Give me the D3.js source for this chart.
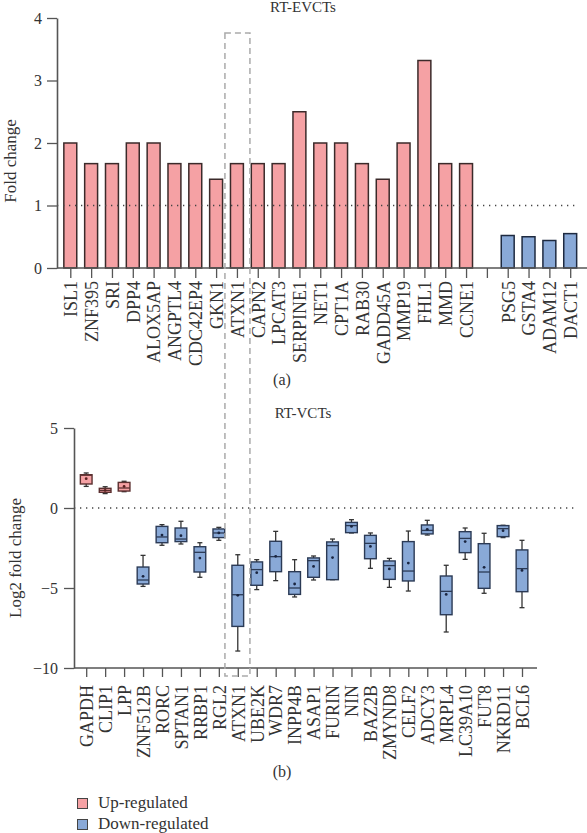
<!DOCTYPE html>
<html><head><meta charset="utf-8">
<script src="https://cdn.jsdelivr.net/npm/d3@7"></script>
<style>
body{margin:0;background:#fff;}
svg{display:block;}
</style></head>
<body><svg id="c" width="587" height="833"></svg>
<script>
// ---------- Data ----------
const upGenesA = ["ISL1","ZNF395","SRI","DPP4","ALOX5AP","ANGPTL4","CDC42EP4","GKN1","ATXN1","CAPN2","LPCAT3","SERPINE1","NET1","CPT1A","RAB30","GADD45A","MMP19","FHL1","MMD","CCNE1"];
const upValuesA = [2,1.67,1.67,2,2,1.67,1.67,1.42,1.67,1.67,1.67,2.5,2,2,1.67,1.42,2,3.32,1.67,1.67];
const downGenesA = ["PSG5","GSTA4","ADAM12","DACT1"];
const downValuesA = [0.52,0.50,0.44,0.55];
const yTicksA = [0,1,2,3,4];

const genesB = ["GAPDH","CLIP1","LPP","ZNF512B","RORC","SPTAN1","RRBP1","RGL2","ATXN1","UBE2K","WDR7","INPP4B","ASAP1","FURIN","NIN","BAZ2B","ZMYND8","CELF2","ADCY3","MRPL4","LC39A10","FUT8","NKRD11","BCL6"];
const regB =   ["up","up","up","down","down","down","down","down","down","down","down","down","down","down","down","down","down","down","down","down","down","down","down","down"];
const minB =   [1.35,0.90,1.02,-4.90,-2.33,-2.25,-4.33,-2.02,-8.94,-5.10,-4.54,-5.56,-4.50,-4.48,-1.56,-3.77,-4.96,-5.19,-1.69,-7.75,-3.21,-5.33,-1.85,-6.23];
const q1B =    [1.50,0.98,1.06,-4.75,-2.17,-2.10,-4.00,-1.85,-7.40,-4.83,-3.98,-5.40,-4.33,-4.48,-1.54,-3.17,-4.46,-4.56,-1.62,-6.67,-2.79,-5.02,-1.79,-5.23];
const medB =   [2.05,1.10,1.25,-4.50,-1.81,-1.94,-2.77,-1.56,-5.42,-3.85,-3.04,-5.00,-3.29,-2.35,-1.10,-2.21,-3.60,-3.94,-1.40,-5.21,-1.90,-4.00,-1.29,-3.79];
const q3B =    [2.08,1.23,1.60,-3.69,-1.15,-1.25,-2.42,-1.31,-3.58,-3.37,-2.08,-3.98,-3.12,-2.12,-0.90,-1.71,-3.31,-2.10,-1.06,-4.25,-1.48,-2.23,-1.10,-2.62];
const maxB =   [2.19,1.33,1.67,-2.96,-1.04,-0.83,-2.17,-1.21,-2.92,-3.23,-1.46,-3.23,-3.00,-1.94,-0.73,-1.56,-3.15,-1.44,-0.77,-3.58,-1.25,-1.58,-1.08,-2.02];
const meanB =  [1.83,1.10,1.35,-4.27,-1.69,-1.73,-3.13,-1.56,-5.46,-4.04,-3.02,-4.75,-3.65,-3.10,-1.15,-2.40,-3.81,-3.44,-1.33,-5.40,-2.10,-3.71,-1.42,-3.90];
const yTicksB = [-10,-5,0,5];

const legendLabels = ["Up-regulated","Down-regulated"];

// ---------- Style ----------
const FONT = '"Liberation Serif","Times New Roman",serif';
const col = {
  upFill:"#F5A1A4", upStroke:"#3b2a2a", upBoxStroke:"#5b3030",
  downFill:"#89A9D7", downStroke:"#1e2a40", downBoxStroke:"#2b3a55",
  axis:"#555", dash:"#aaa", text:"#333"
};
const svg = d3.select("#c");
const LABEL_FS = 18;
function txt(g, s, size){
  return g.append("text").style("font-family",FONT).style("font-size",size+"px")
    .attr("fill",col.text).text(s);
}

// ---------- Panel A ----------
const catsA = [...upGenesA, " ", ...downGenesA];
const dataA = upGenesA.map((g,i)=>({g, v:upValuesA[i], t:"up"}))
  .concat(downGenesA.map((g,i)=>({g, v:downValuesA[i], t:"down"})));
const xA = d3.scalePoint().domain(catsA).range([70.3, 570.2]);
const yA = d3.scaleLinear().domain([0,4]).range([268,18]);
const bwA = xA.step()*0.62;
const gA = svg.append("g");

gA.selectAll("rect.bar").data(dataA).enter().append("rect")
  .attr("x", d=>xA(d.g)-bwA/2).attr("y", d=>yA(d.v))
  .attr("width", bwA).attr("height", d=>yA(0)-yA(d.v))
  .attr("fill", d=>d.t==="up"?col.upFill:col.downFill)
  .attr("stroke", d=>d.t==="up"?col.upStroke:col.downStroke)
  .attr("stroke-width",1.5);

gA.append("line").attr("x1",57).attr("x2",578).attr("y1",yA(1)).attr("y2",yA(1))
  .attr("stroke","#444").attr("stroke-width",1.3).attr("stroke-dasharray","1.3,4.7");

const axYA = gA.append("g").attr("transform","translate(57,0)")
  .call(d3.axisLeft(yA).tickValues(yTicksA).tickFormat(d3.format("d")).tickSize(10).tickPadding(5).tickSizeOuter(0));
const axXA = gA.append("g").attr("transform",`translate(0,${yA(0)})`)
  .call(d3.axisBottom(xA).tickSize(10).tickPadding(4).tickSizeOuter(0));
axXA.select(".domain").remove();
gA.append("line").attr("x1",57).attr("x2",587).attr("y1",yA(0)).attr("y2",yA(0))
  .attr("stroke",col.axis).attr("stroke-width",1.6);
axXA.selectAll(".tick text").attr("transform","rotate(-90)")
  .attr("text-anchor","end").attr("x",-13).attr("y",0).attr("dy","0.35em");

txt(gA,"RT-EVCTs",15).attr("x",303).attr("y",12).attr("text-anchor","middle");
txt(gA,"Fold change",17).attr("transform","translate(16,161) rotate(-90)").attr("text-anchor","middle");
txt(gA,"(a)",16).attr("x",282).attr("y",385).attr("text-anchor","middle");

// ---------- Panel B ----------
const xB = d3.scalePoint().domain(genesB).range([86.2, 522]);
const yB = d3.scaleLinear().domain([-10,5]).range([668,428]);
const bwB = 11.7, capW = 5;
const gB = svg.append("g");
const dataB = genesB.map((g,i)=>({g, t:regB[i], min:minB[i], q1:q1B[i], med:medB[i], q3:q3B[i], max:maxB[i], mean:meanB[i]}));

gB.append("line").attr("x1",74).attr("x2",575).attr("y1",yB(0)).attr("y2",yB(0))
  .attr("stroke","#444").attr("stroke-width",1.3).attr("stroke-dasharray","1.3,4.7");

const bx = gB.selectAll("g.box").data(dataB).enter().append("g");
bx.append("line").attr("x1",d=>xB(d.g)).attr("x2",d=>xB(d.g))
  .attr("y1",d=>yB(d.max)).attr("y2",d=>yB(d.min)).attr("stroke","#333").attr("stroke-width",1.3);
bx.append("line").attr("x1",d=>xB(d.g)-capW/2).attr("x2",d=>xB(d.g)+capW/2)
  .attr("y1",d=>yB(d.max)).attr("y2",d=>yB(d.max)).attr("stroke","#333").attr("stroke-width",1.3);
bx.append("line").attr("x1",d=>xB(d.g)-capW/2).attr("x2",d=>xB(d.g)+capW/2)
  .attr("y1",d=>yB(d.min)).attr("y2",d=>yB(d.min)).attr("stroke","#333").attr("stroke-width",1.3);
bx.append("rect").attr("x",d=>xB(d.g)-bwB/2).attr("y",d=>yB(d.q3))
  .attr("width",bwB).attr("height",d=>Math.max(1,yB(d.q1)-yB(d.q3)))
  .attr("fill",d=>d.t==="up"?col.upFill:col.downFill)
  .attr("stroke",d=>d.t==="up"?col.upBoxStroke:col.downBoxStroke).attr("stroke-width",1.4);
bx.append("line").attr("x1",d=>xB(d.g)-bwB/2).attr("x2",d=>xB(d.g)+bwB/2)
  .attr("y1",d=>yB(d.med)).attr("y2",d=>yB(d.med))
  .attr("stroke",d=>d.t==="up"?col.upBoxStroke:col.downBoxStroke).attr("stroke-width",1.3);
bx.append("circle").attr("cx",d=>xB(d.g)).attr("cy",d=>yB(d.mean)).attr("r",1.4)
  .attr("fill",d=>d.t==="up"?"#5b2020":"#1a2540");

const axYB = gB.append("g").attr("transform","translate(74,0)")
  .call(d3.axisLeft(yB).tickValues(yTicksB).tickFormat(d3.format("d")).tickSize(10).tickPadding(6).tickSizeOuter(0));
const axXB = gB.append("g").attr("transform",`translate(0,${yB(-10)})`)
  .call(d3.axisBottom(xB).tickSize(9).tickPadding(4).tickSizeOuter(0));
axXB.select(".domain").remove();
gB.append("line").attr("x1",74).attr("x2",537).attr("y1",yB(-10)).attr("y2",yB(-10))
  .attr("stroke",col.axis).attr("stroke-width",1.6);
axXB.selectAll(".tick text").attr("transform","rotate(-90)")
  .attr("text-anchor","end").attr("x",-17).attr("y",0).attr("dy","0.35em");

txt(gB,"RT-VCTs",15).attr("x",303).attr("y",418).attr("text-anchor","middle");
txt(gB,"Log2 fold change",17).attr("transform","translate(21,558) rotate(-90)").attr("text-anchor","middle");
txt(gB,"(b)",16).attr("x",282).attr("y",777).attr("text-anchor","middle");

// axis styling
svg.selectAll(".domain").attr("stroke",col.axis).attr("stroke-width",1.6);
svg.selectAll(".tick line").attr("stroke",col.axis).attr("stroke-width",1.3);
svg.selectAll(".tick text").style("font-size",LABEL_FS+"px").attr("fill",col.text)
  .style("font-family",FONT);
axYA.selectAll(".tick text").style("font-size","16px");
axYB.selectAll(".tick text").style("font-size","16px");

// ---------- Highlight box (ATXN1) ----------
const hx0 = xA("ATXN1") - 12, hx1 = xA("ATXN1") + 13;
svg.append("rect").attr("x",hx0).attr("y",33).attr("width",hx1-hx0).attr("height",676-33)
  .attr("fill","none").attr("stroke",col.dash).attr("stroke-width",1.5).attr("stroke-dasharray","6,4");

// ---------- Legend ----------
const lg = svg.append("g").attr("transform","translate(77,798)");
legendLabels.forEach((l,i)=>{
  lg.append("rect").attr("x",0.5).attr("y",i*21+0.5).attr("width",10).attr("height",10)
    .attr("fill",i===0?col.upFill:col.downFill).attr("stroke","#444").attr("stroke-width",1);
  txt(lg,l,17).attr("x",21).attr("y",i*21+10);
});
</script></body></html>
